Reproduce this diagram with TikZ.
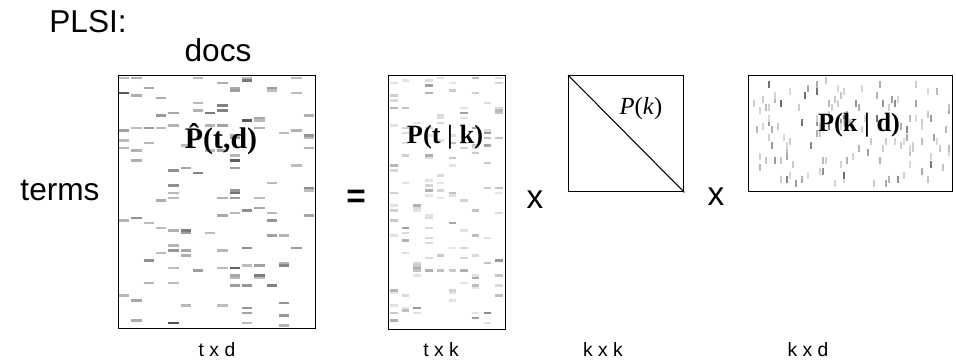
\documentclass[tikz,border=0pt]{standalone}
\usepackage{fontspec}
\setmainfont{Liberation Serif}
\setsansfont{Liberation Sans}
\usetikzlibrary{positioning}

\begin{document}
\begin{tikzpicture}[
        x=0.02cm,
        y=-0.02cm,
        big/.style={font=\fontsize{18}{20}\selectfont\sffamily, inner sep=0pt},
        dim/.style={font=\fontsize{11}{12}\selectfont\sffamily, inner sep=0pt, anchor=base},
        op/.style={font=\fontsize{19}{20}\selectfont\sffamily, inner sep=0pt},
        matbox/.style={draw, line width=0.8pt, inner sep=0pt, anchor=north west},
        mlabel/.style={font=\fontsize{15}{16}\selectfont\bfseries, inner sep=0pt},
        hdash/.style={line width=1.2pt},
        vdash/.style={line width=0.6pt}
    ]
        \useasboundingbox (0,0) rectangle (956,360);

        % noise of the four matrices
        \pgfmathsetseed{11}
        \foreach \n in {1,...,125} {
            \pgfmathsetmacro\cx{118+12.3*floor(16*rnd)+1}
            \pgfmathsetmacro\cy{78+2.5*floor(100*rnd)}
            \pgfmathsetmacro\gv{int(26+45*rnd*rnd)}
            \draw[hdash, black!\gv] (\cx,\cy) -- ++(10.3,0);
        }
        \foreach \n in {1,...,140} {
            \pgfmathsetmacro\cx{388+11.7*floor(10*rnd)+2}
            \pgfmathsetmacro\cy{78+2.5*floor(100*rnd)}
            \pgfmathsetmacro\gv{int(10+40*rnd*rnd)}
            \draw[hdash, black!\gv] (\cx,\cy) -- ++(7.5,0);
        }
        \foreach \n in {1,...,140} {
            \pgfmathsetmacro\cx{751+3*floor(67*rnd)}
            \pgfmathsetmacro\cy{77+3.8*floor(28*rnd)}
            \pgfmathsetmacro\gv{int(15+45*rnd*rnd)}
            \draw[vdash, black!\gv] (\cx,\cy) -- ++(0,7);
        }

        \node[matbox, minimum width=3.94cm, minimum height=5.06cm] (ptd) at (118,75) {};
        \node[matbox, minimum width=2.34cm, minimum height=5.08cm] (ptk) at (388,75) {};
        \node[matbox, minimum width=2.30cm, minimum height=2.32cm] (pk) at (568,75) {};
        \node[matbox, minimum width=4.08cm, minimum height=2.32cm] (pkd) at (748,75) {};
        \draw[line width=0.6pt] (pk.north west) -- (pk.south east);

        \node[big] (plsi) at (88,22) {PLSI:};
        \node[big] (docs) at (218,50) {docs};
        \node[big] (terms) at (60,190) {terms};
        \node[op] (eq) at (356,199) {\textbf{=}};
        \node[op] (times1) at (535,200) {x};
        \node[op] (times2) at (716,197) {x};

        \node[mlabel, font=\fontsize{17}{18}\selectfont\bfseries] (lptd) at (221,139) {\^{P}(t,d)};
        \node[mlabel] (lptk) at (445,137) {P(t | k)};
        \node[mlabel] (lpkd) at (859,125) {P(k | d)};
        \node[font=\fontsize{14}{15}\selectfont, inner sep=0pt] (lpk) at (641,109) {\textit{P}(\textit{k})};

        \node[dim] (dtd) at (217,356) {t x d};
        \node[dim] (dtk) at (441,356) {t x k};
        \node[dim] (dkk) at (603,356) {k x k};
        \node[dim] (dkd) at (808,356) {k x d};
    \end{tikzpicture}
\end{document}
